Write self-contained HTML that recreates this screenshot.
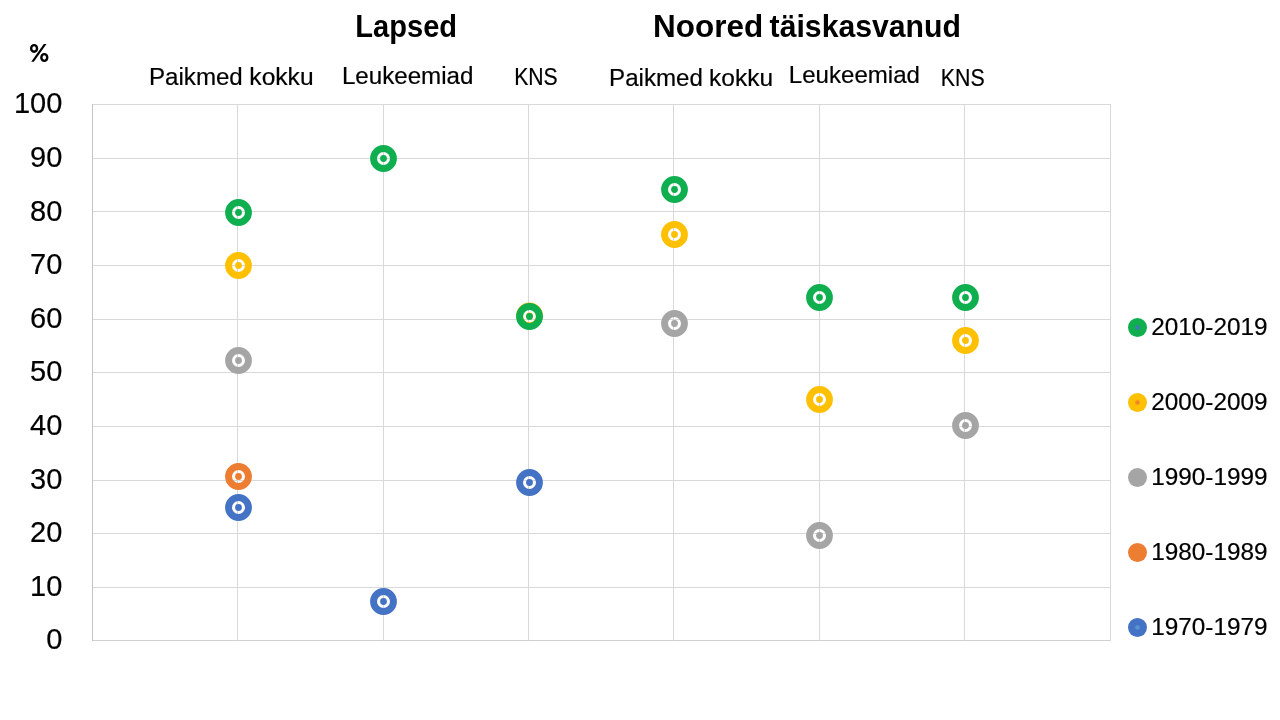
<!DOCTYPE html>
<html><head><meta charset="utf-8"><title>Chart</title>
<style>
html,body{margin:0;padding:0;background:#fff;}
body{width:1280px;height:720px;overflow:hidden;}
svg{display:block;will-change:transform;}
text{font-family:"Liberation Sans",sans-serif;fill:#000;stroke:#000;stroke-width:0.2px;}
.b{font-weight:bold;stroke:none;}
</style></head><body>
<svg width="1280" height="720" viewBox="0 0 1280 720">
<rect width="1280" height="720" fill="#fff"/>
<g shape-rendering="crispEdges">
<rect x="92" y="104" width="1019" height="1" fill="#D9D9D9"/>
<rect x="92" y="158" width="1019" height="1" fill="#D9D9D9"/>
<rect x="92" y="211" width="1019" height="1" fill="#D9D9D9"/>
<rect x="92" y="265" width="1019" height="1" fill="#D9D9D9"/>
<rect x="92" y="319" width="1019" height="1" fill="#D9D9D9"/>
<rect x="92" y="372" width="1019" height="1" fill="#D9D9D9"/>
<rect x="92" y="426" width="1019" height="1" fill="#D9D9D9"/>
<rect x="92" y="480" width="1019" height="1" fill="#D9D9D9"/>
<rect x="92" y="533" width="1019" height="1" fill="#D9D9D9"/>
<rect x="92" y="587" width="1019" height="1" fill="#D9D9D9"/>
<rect x="92" y="640" width="1019" height="1" fill="#D0D0D0"/>
<rect x="92" y="104" width="1" height="537" fill="#C3C3C3"/>
<rect x="237" y="104" width="1" height="537" fill="#D9D9D9"/>
<rect x="383" y="104" width="1" height="537" fill="#D9D9D9"/>
<rect x="528" y="104" width="1" height="537" fill="#D9D9D9"/>
<rect x="673" y="104" width="1" height="537" fill="#D9D9D9"/>
<rect x="819" y="104" width="1" height="537" fill="#D9D9D9"/>
<rect x="964" y="104" width="1" height="537" fill="#D9D9D9"/>
<rect x="1110" y="104" width="1" height="537" fill="#D9D9D9"/>
</g>
<g>
<circle cx="238.5" cy="212.5" r="9.95" fill="none" stroke="#0FAF50" stroke-width="6.9"/><circle cx="238.5" cy="212.5" r="3.4" fill="#0FAF50"/>
<circle cx="238.5" cy="265.5" r="9.95" fill="none" stroke="#FFC000" stroke-width="6.9"/><circle cx="238.5" cy="265.5" r="3.4" fill="#FFC000"/>
<circle cx="238.5" cy="360.5" r="9.95" fill="none" stroke="#A5A5A5" stroke-width="6.9"/><circle cx="238.5" cy="360.5" r="3.4" fill="#A5A5A5"/>
<circle cx="238.5" cy="476.5" r="9.95" fill="none" stroke="#ED7D31" stroke-width="6.9"/><circle cx="238.5" cy="476.5" r="3.4" fill="#ED7D31"/>
<circle cx="238.5" cy="507.5" r="9.95" fill="none" stroke="#4472C4" stroke-width="6.9"/><circle cx="238.5" cy="507.5" r="3.4" fill="#4472C4"/>
<circle cx="383.5" cy="158.5" r="9.95" fill="none" stroke="#0FAF50" stroke-width="6.9"/><circle cx="383.5" cy="158.5" r="3.4" fill="#0FAF50"/>
<circle cx="383.5" cy="601.5" r="9.95" fill="none" stroke="#4472C4" stroke-width="6.9"/><circle cx="383.5" cy="601.5" r="3.4" fill="#4472C4"/>
<circle cx="529.5" cy="315.8" r="9.95" fill="none" stroke="#FFC000" stroke-width="6.9"/><circle cx="529.5" cy="315.8" r="3.4" fill="#FFC000"/>
<circle cx="529.5" cy="316.5" r="9.95" fill="none" stroke="#0FAF50" stroke-width="6.9"/><circle cx="529.5" cy="316.5" r="3.4" fill="#0FAF50"/>
<circle cx="529.5" cy="482.5" r="9.95" fill="none" stroke="#4472C4" stroke-width="6.9"/><circle cx="529.5" cy="482.5" r="3.4" fill="#4472C4"/>
<circle cx="674.5" cy="189.5" r="9.95" fill="none" stroke="#0FAF50" stroke-width="6.9"/><circle cx="674.5" cy="189.5" r="3.4" fill="#0FAF50"/>
<circle cx="674.5" cy="234.5" r="9.95" fill="none" stroke="#FFC000" stroke-width="6.9"/><circle cx="674.5" cy="234.5" r="3.4" fill="#FFC000"/>
<circle cx="674.5" cy="323.5" r="9.95" fill="none" stroke="#A5A5A5" stroke-width="6.9"/><circle cx="674.5" cy="323.5" r="3.4" fill="#A5A5A5"/>
<circle cx="819.5" cy="297.5" r="9.95" fill="none" stroke="#0FAF50" stroke-width="6.9"/><circle cx="819.5" cy="297.5" r="3.4" fill="#0FAF50"/>
<circle cx="819.5" cy="399.5" r="9.95" fill="none" stroke="#FFC000" stroke-width="6.9"/><circle cx="819.5" cy="399.5" r="3.4" fill="#FFC000"/>
<circle cx="819.5" cy="535.5" r="9.95" fill="none" stroke="#A5A5A5" stroke-width="6.9"/><circle cx="819.5" cy="535.5" r="3.4" fill="#A5A5A5"/>
<circle cx="965.5" cy="297.5" r="9.95" fill="none" stroke="#0FAF50" stroke-width="6.9"/><circle cx="965.5" cy="297.5" r="3.4" fill="#0FAF50"/>
<circle cx="965.5" cy="340.5" r="9.95" fill="none" stroke="#FFC000" stroke-width="6.9"/><circle cx="965.5" cy="340.5" r="3.4" fill="#FFC000"/>
<circle cx="965.5" cy="425.5" r="9.95" fill="none" stroke="#A5A5A5" stroke-width="6.9"/><circle cx="965.5" cy="425.5" r="3.4" fill="#A5A5A5"/>
</g>
<g>
<g fill="none" stroke="#000" stroke-width="2.4"><ellipse cx="34.1" cy="48.45" rx="2.95" ry="3.3"/><ellipse cx="44.3" cy="57.5" rx="2.95" ry="3.35"/></g><polygon points="43.8,44 46.5,44 33.85,61.8 31.2,61.8" fill="#000"/><text x="29" y="62" font-size="25" class="b" style="fill:none;stroke:none">%</text>
<text transform="translate(355.30,36.9) scale(0.9389,1)" font-size="31" class="b">Lapsed</text>
<text transform="translate(653.01,36.7) scale(1.0155,1)" font-size="31" class="b">Noored</text>
<text transform="translate(769.62,36.7) scale(0.9743,1)" font-size="31" class="b">täiskasvanud</text>
<text transform="translate(148.97,84.5) scale(1.0135,1)" font-size="23.8">Paikmed</text>
<text transform="translate(249.36,84.5) scale(1.0326,1)" font-size="23.8">kokku</text>
<text transform="translate(341.89,83.7) scale(1.0152,1)" font-size="23.8">Leukeemiad</text>
<text transform="translate(514.13,84.6) scale(0.8906,1)" font-size="23.8">KNS</text>
<text transform="translate(609.10,85.9) scale(1.0135,1)" font-size="23.8">Paikmed</text>
<text transform="translate(709.09,85.9) scale(1.0284,1)" font-size="23.8">kokku</text>
<text transform="translate(788.76,83.3) scale(1.0124,1)" font-size="23.8">Leukeemiad</text>
<text transform="translate(940.74,85.75) scale(0.8969,1)" font-size="23.8">KNS</text>
<text transform="translate(62.35,113) scale(1,1)" font-size="29" text-anchor="end">100</text>
<text transform="translate(62.35,167) scale(1,1)" font-size="29" text-anchor="end">90</text>
<text transform="translate(62.35,221) scale(1,1)" font-size="29" text-anchor="end">80</text>
<text transform="translate(62.35,274) scale(1,1)" font-size="29" text-anchor="end">70</text>
<text transform="translate(62.35,328) scale(1,1)" font-size="29" text-anchor="end">60</text>
<text transform="translate(62.35,381) scale(1,1)" font-size="29" text-anchor="end">50</text>
<text transform="translate(62.35,435) scale(1,1)" font-size="29" text-anchor="end">40</text>
<text transform="translate(62.35,489) scale(1,1)" font-size="29" text-anchor="end">30</text>
<text transform="translate(62.35,542) scale(1,1)" font-size="29" text-anchor="end">20</text>
<text transform="translate(62.35,596) scale(1,1)" font-size="29" text-anchor="end">10</text>
<text transform="translate(62.35,649) scale(1,1)" font-size="29" text-anchor="end">0</text>
<circle cx="1137.5" cy="327.5" r="9.5" fill="#0FAF50"/>
<circle cx="1137.5" cy="327.5" r="2.3" fill="#4472C4" fill-opacity="0.85"/>
<text transform="translate(1151.3,334.9) scale(1.026,1)" font-size="23.7">2010-2019</text>
<circle cx="1137.5" cy="402.5" r="9.5" fill="#FFC000"/>
<circle cx="1137.5" cy="402.5" r="2.3" fill="#ED7D31" fill-opacity="0.85"/>
<text transform="translate(1151.3,409.9) scale(1.026,1)" font-size="23.7">2000-2009</text>
<circle cx="1137.5" cy="477.5" r="9.5" fill="#A5A5A5"/>
<text transform="translate(1151.3,484.9) scale(1.026,1)" font-size="23.7">1990-1999</text>
<circle cx="1137.5" cy="552.5" r="9.5" fill="#ED7D31"/>
<text transform="translate(1151.3,559.9) scale(1.026,1)" font-size="23.7">1980-1989</text>
<circle cx="1137.5" cy="627.5" r="9.5" fill="#4472C4"/>
<circle cx="1137.5" cy="627.5" r="2.3" fill="#5B9BD5" fill-opacity="0.85"/>
<text transform="translate(1151.3,634.9) scale(1.026,1)" font-size="23.7">1970-1979</text>
</g>
</svg></body></html>
